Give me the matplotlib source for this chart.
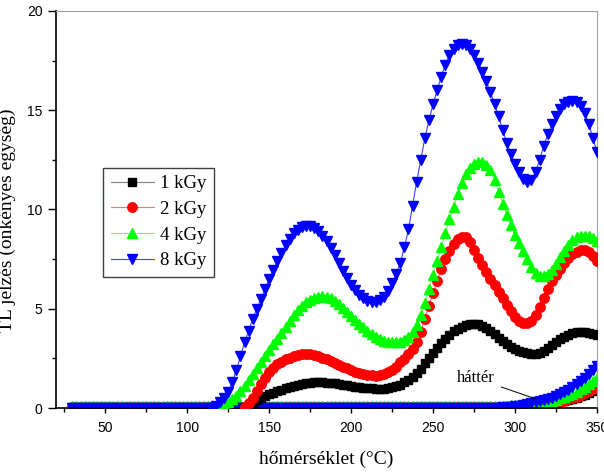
import numpy as np
import matplotlib
matplotlib.use('Agg')
import matplotlib.pyplot as plt
from matplotlib.ticker import MultipleLocator

plt.rcParams['font.family'] = 'Liberation Sans'

# TL glow curves, temperature grid in deg C, step 2.5
t_1kgy = np.arange(135, 350.1, 2.5)
tl_1kgy = [0.05, 0.15, 0.3, 0.4, 0.5, 0.6, 0.7, 0.78, 0.85, 0.93,
           1.0, 1.05, 1.1, 1.15, 1.2, 1.24, 1.28, 1.29, 1.3, 1.3,
           1.28, 1.26, 1.24, 1.21, 1.18, 1.14, 1.1, 1.07, 1.04, 1.02,
           1.0, 0.99, 0.98, 0.98, 0.98, 1.0, 1.04, 1.1, 1.18, 1.29,
           1.42, 1.57, 1.75, 1.98, 2.25, 2.5, 2.75, 3.0, 3.25, 3.48,
           3.7, 3.86, 4.0, 4.1, 4.2, 4.24, 4.25, 4.22, 4.15, 4.04,
           3.9, 3.73, 3.55, 3.37, 3.2, 3.07, 2.95, 2.87, 2.8, 2.75,
           2.72, 2.72, 2.76, 2.86, 3.0, 3.17, 3.35, 3.49, 3.6, 3.7,
           3.78, 3.83, 3.85, 3.84, 3.8, 3.75, 3.7]

t_2kgy = np.arange(135, 350.1, 2.5)
tl_2kgy = [0.05, 0.25, 0.5, 0.85, 1.2, 1.5, 1.8, 2.0, 2.2, 2.33,
           2.45, 2.53, 2.6, 2.66, 2.7, 2.71, 2.7, 2.66, 2.6, 2.53,
           2.45, 2.36, 2.27, 2.17, 2.08, 1.99, 1.9, 1.82, 1.75, 1.7,
           1.67, 1.64, 1.63, 1.66, 1.72, 1.8, 1.92, 2.08, 2.3, 2.48,
           2.7, 2.95, 3.3, 3.85, 4.5, 5.15, 5.8, 6.4, 7.0, 7.5,
           7.9, 8.25, 8.5, 8.62, 8.6, 8.35, 7.95, 7.55, 7.2, 6.85,
           6.5, 6.18, 5.85, 5.52, 5.2, 4.88, 4.6, 4.4, 4.3, 4.3,
           4.4, 4.7, 5.1, 5.55, 6.0, 6.38, 6.7, 7.0, 7.3, 7.55,
           7.75, 7.88, 7.95, 7.95, 7.85, 7.65, 7.4]

t_4kgy = np.arange(120, 350.1, 2.5)
tl_4kgy = [0.05, 0.15, 0.3, 0.45, 0.6, 0.85, 1.1, 1.4, 1.7, 2.0,
           2.3, 2.6, 2.9, 3.2, 3.5, 3.8, 4.1, 4.4, 4.7, 4.95,
           5.15, 5.32, 5.45, 5.55, 5.6, 5.62, 5.6, 5.52, 5.4, 5.23,
           5.05, 4.85, 4.65, 4.45, 4.25, 4.07, 3.9, 3.74, 3.6, 3.49,
           3.4, 3.33, 3.3, 3.3, 3.35, 3.45, 3.6, 3.85, 4.2, 4.7,
           5.3, 6.0, 6.7, 7.4, 8.1, 8.8, 9.5, 10.15, 10.8, 11.35,
           11.8, 12.1, 12.3, 12.4, 12.4, 12.25, 12.0, 11.5, 10.9, 10.3,
           9.7, 9.2, 8.7, 8.3, 7.9, 7.5, 7.1, 6.8, 6.65, 6.65,
           6.75, 6.95, 7.25, 7.6, 7.9, 8.2, 8.45, 8.6, 8.65, 8.68,
           8.65, 8.55, 8.4]

t_8kgy = np.arange(115, 350.1, 2.5)
tl_8kgy = [0.0, 0.12, 0.3, 0.5, 0.8, 1.3, 1.9, 2.6, 3.3, 3.9,
           4.5, 5.0, 5.5, 6.0, 6.5, 6.95, 7.4, 7.8, 8.2, 8.5,
           8.8, 8.97, 9.1, 9.15, 9.15, 9.05, 8.9, 8.67, 8.4, 8.05,
           7.7, 7.3, 6.9, 6.53, 6.2, 5.93, 5.7, 5.52, 5.4, 5.35,
           5.35, 5.43, 5.6, 5.9, 6.3, 6.75, 7.3, 8.1, 9.0, 10.2,
           11.4, 12.5, 13.6, 14.5, 15.3, 16.0, 16.7, 17.3, 17.8, 18.1,
           18.3, 18.35, 18.3, 18.1, 17.8, 17.4, 16.95, 16.45, 15.9, 15.3,
           14.7, 14.0, 13.35, 12.8, 12.3, 11.9, 11.55, 11.4, 11.5, 11.9,
           12.5, 13.2, 13.8, 14.3, 14.7, 15.05, 15.3, 15.4, 15.45, 15.4,
           15.2, 14.85, 14.3, 13.6, 12.9]

# background (hatter) curves: flat from 30 to 290, then rising
t_bg = np.arange(30, 350.1, 2.5)
bg_1kgy = [0.04] * 105 + [0.04, 0.04, 0.04, 0.04, 0.05, 0.06, 0.07, 0.08, 0.1, 0.12,
                          0.14, 0.17, 0.2, 0.24, 0.28, 0.33, 0.38, 0.44, 0.51, 0.58,
                          0.66, 0.75, 0.85, 0.95]
bg_2kgy = [0.07] * 105 + [0.07, 0.07, 0.07, 0.08, 0.08, 0.09, 0.1, 0.11, 0.13, 0.15,
                          0.17, 0.2, 0.23, 0.27, 0.32, 0.37, 0.43, 0.5, 0.57, 0.65,
                          0.75, 0.85, 0.97, 1.1]
bg_4kgy = [0.12] * 105 + [0.12, 0.12, 0.13, 0.14, 0.15, 0.17, 0.18, 0.2, 0.22, 0.25,
                          0.28, 0.32, 0.37, 0.42, 0.48, 0.55, 0.63, 0.72, 0.83, 0.95,
                          1.07, 1.2, 1.35, 1.5]
bg_8kgy = [0.0] * 105 + [0.03, 0.05, 0.07, 0.1, 0.12, 0.15, 0.2, 0.25, 0.3, 0.35,
                         0.4, 0.45, 0.52, 0.6, 0.7, 0.8, 0.92, 1.05, 1.2, 1.35,
                         1.52, 1.7, 1.9, 2.1]

labels = ['1 kGy', '2 kGy', '4 kGy', '8 kGy']

serif = 'Liberation Serif'

fig = plt.figure(figsize=(6.04, 4.73), dpi=100)
ax = fig.add_axes([56 / 604, 65 / 473, 541 / 604, 397 / 473])

styles = [
    ('black', '#808080', 's', 6.0),
    ('#ff0000', '#e87878', 'o', 6.8),
    ('#00ff00', '#80ee80', '^', 6.6),
    ('#0000ff', '#4040ff', 'v', 6.6),
]
mains = [(t_1kgy, tl_1kgy), (t_2kgy, tl_2kgy), (t_4kgy, tl_4kgy), (t_8kgy, tl_8kgy)]
bgs = [bg_1kgy, bg_2kgy, bg_4kgy, bg_8kgy]

handles = []
for (mc, lc, mk, ms), (tt, vv), bg, lab in zip(styles, mains, bgs, labels):
    ax.plot(t_bg, bg, color=lc, lw=0.8, marker=mk, ms=ms, mfc=mc, mec=mc, zorder=2)
    h, = ax.plot(tt, vv, color=lc, lw=0.8, marker=mk, ms=ms, mfc=mc, mec=mc,
                 label=lab, zorder=3)
    handles.append(h)

ax.set_xlim(20, 350)
ax.set_ylim(0, 20)
ax.xaxis.set_major_locator(MultipleLocator(50))
ax.xaxis.set_minor_locator(MultipleLocator(25))
ax.yaxis.set_major_locator(MultipleLocator(5))
ax.yaxis.set_minor_locator(MultipleLocator(2.5))
ax.tick_params(axis='x', which='major', direction='out', length=3.6, width=1,
               labelsize=10, pad=6)
ax.tick_params(axis='x', which='minor', direction='out', length=2.9, width=1)
ax.tick_params(axis='y', which='major', direction='out', length=5.8, width=1,
               labelsize=10, pad=4)
ax.tick_params(axis='y', which='minor', direction='out', length=2.9, width=1)

ax.spines['left'].set_linewidth(1.2)
ax.spines['bottom'].set_linewidth(1.2)
ax.spines['top'].set_color('#a0a0a0')
ax.spines['top'].set_linewidth(0.8)
ax.spines['right'].set_color('#a0a0a0')
ax.spines['right'].set_linewidth(0.8)

ax.set_xlabel('hőmérséklet (°C)', family=serif, fontsize=14)
ax.xaxis.set_label_coords(0.5, -0.108)
ax.set_ylabel('TL jelzés (önkényes egység)', family=serif, fontsize=14)
ax.yaxis.set_label_coords(-0.074, 0.474)

leg = ax.legend(handles=handles, loc='upper left', bbox_to_anchor=(0.087, 0.605),
                borderaxespad=0, prop={'family': serif, 'size': 13.5}, frameon=True,
                fancybox=False, framealpha=1, edgecolor='#404040', handlelength=2.3,
                borderpad=0.4, labelspacing=0.45, handletextpad=0.35)
leg.get_frame().set_linewidth(1.0)

ax.annotate('háttér', xy=(313, 0.45), xytext=(276, 1.5), family=serif, fontsize=12,
            ha='center', va='center',
            arrowprops=dict(arrowstyle='-', color='black', lw=0.7, shrinkA=3, shrinkB=0))

fig.savefig('out.png', dpi=100)
